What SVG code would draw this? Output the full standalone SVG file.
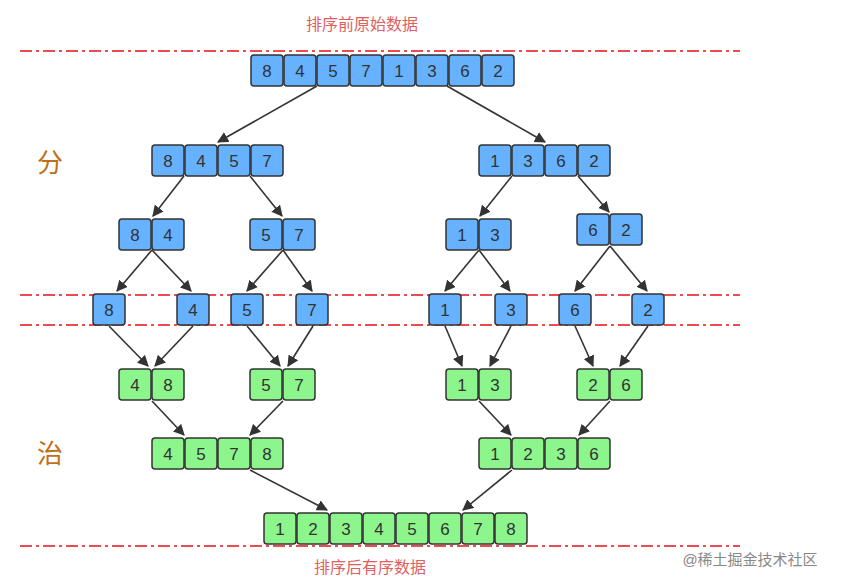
<svg xmlns="http://www.w3.org/2000/svg" width="847" height="588" viewBox="0 0 847 588">
<defs>
<style>
.b rect{fill:#66b2ff;stroke:#333;stroke-width:1.5}
.g rect{fill:#8cf58c;stroke:#333;stroke-width:1.5}
text{font-family:"Liberation Sans","Noto Sans CJK SC",sans-serif}
.n{font-size:17px;fill:#333;text-anchor:middle}
.d{stroke:#e8101a;stroke-width:1.5;stroke-dasharray:12 4 3 4;fill:none}
.c line{stroke:#333;stroke-width:1.6;marker-end:url(#a)}
.t{font-size:16px;fill:#e06060;text-anchor:middle}
.h{font-size:26px;fill:#c0701a;text-anchor:middle}
</style>
<marker id="a" viewBox="0 0 10 10" refX="9" refY="5" markerWidth="7" markerHeight="7" orient="auto"><path d="M0,0L10,5L0,10z" fill="#333"/></marker>
</defs>
<rect width="847" height="588" fill="#fff"/>
<g id="guides">
<line class="d" x1="20" y1="51" x2="740" y2="51"/>
<line class="d" x1="20" y1="295" x2="740" y2="295"/>
<line class="d" x1="20" y1="325" x2="740" y2="325"/>
<line class="d" x1="20" y1="546" x2="740" y2="546"/>
</g>
<text class="t" x="362" y="30">排序前原始数据</text>
<text class="t" x="370" y="573">排序后有序数据</text>
<text class="h" x="50" y="172">分</text>
<text class="h" x="50" y="463">治</text>
<text x="750" y="565" font-size="15" fill="#888" text-anchor="middle">@稀土掘金技术社区</text>
<g class="c">
<line x1="317" y1="86" x2="218" y2="142"/>
<line x1="447" y1="86" x2="545" y2="142"/>
<line x1="184" y1="176" x2="153" y2="216"/>
<line x1="250" y1="176" x2="282" y2="216"/>
<line x1="512" y1="176" x2="480" y2="216"/>
<line x1="578" y1="176" x2="609" y2="212"/>
<line x1="152" y1="250" x2="117" y2="291"/>
<line x1="152" y1="250" x2="191" y2="291"/>
<line x1="283" y1="250" x2="247" y2="291"/>
<line x1="283" y1="250" x2="312" y2="291"/>
<line x1="479" y1="250" x2="445" y2="291"/>
<line x1="479" y1="250" x2="510" y2="291"/>
<line x1="610" y1="246" x2="575" y2="291"/>
<line x1="610" y1="246" x2="647" y2="291"/>
<line x1="109" y1="326" x2="148" y2="366"/>
<line x1="193" y1="326" x2="155" y2="366"/>
<line x1="247" y1="326" x2="280" y2="366"/>
<line x1="313" y1="326" x2="288" y2="366"/>
<line x1="445" y1="326" x2="462" y2="366"/>
<line x1="511" y1="326" x2="490" y2="366"/>
<line x1="575" y1="326" x2="593" y2="366"/>
<line x1="648" y1="326" x2="620" y2="366"/>
<line x1="152" y1="401" x2="184" y2="435"/>
<line x1="283" y1="401" x2="250" y2="435"/>
<line x1="479" y1="401" x2="511" y2="435"/>
<line x1="610" y1="401" x2="579" y2="435"/>
<line x1="250" y1="470" x2="327" y2="510"/>
<line x1="512" y1="470" x2="463" y2="510"/>
</g>
<g id="top" class="b">
<rect x="251" y="55" width="32" height="31" rx="3"/><rect x="284" y="55" width="32" height="31" rx="3"/><rect x="317" y="55" width="32" height="31" rx="3"/><rect x="350" y="55" width="32" height="31" rx="3"/><rect x="383" y="55" width="32" height="31" rx="3"/><rect x="416" y="55" width="32" height="31" rx="3"/><rect x="449" y="55" width="32" height="31" rx="3"/><rect x="482" y="55" width="32" height="31" rx="3"/>
<text class="n" y="77"><tspan x="267">8</tspan><tspan x="300">4</tspan><tspan x="333">5</tspan><tspan x="366">7</tspan><tspan x="399">1</tspan><tspan x="432">3</tspan><tspan x="465">6</tspan><tspan x="498">2</tspan></text>
</g>
<g id="l2a" class="b">
<rect x="152" y="145" width="32" height="31" rx="3"/><rect x="185" y="145" width="32" height="31" rx="3"/><rect x="218" y="145" width="32" height="31" rx="3"/><rect x="251" y="145" width="32" height="31" rx="3"/>
<text class="n" y="167"><tspan x="168">8</tspan><tspan x="201">4</tspan><tspan x="234">5</tspan><tspan x="267">7</tspan></text>
</g>
<g id="l2b" class="b">
<rect x="479" y="145" width="32" height="31" rx="3"/><rect x="512" y="145" width="32" height="31" rx="3"/><rect x="545" y="145" width="32" height="31" rx="3"/><rect x="578" y="145" width="32" height="31" rx="3"/>
<text class="n" y="167"><tspan x="495">1</tspan><tspan x="528">3</tspan><tspan x="561">6</tspan><tspan x="594">2</tspan></text>
</g>
<g id="l3a" class="b"><rect x="119" y="219" width="32" height="31" rx="3"/><rect x="152" y="219" width="32" height="31" rx="3"/><text class="n" y="241"><tspan x="135">8</tspan><tspan x="168">4</tspan></text></g>
<g id="l3b" class="b"><rect x="250" y="219" width="32" height="31" rx="3"/><rect x="283" y="219" width="32" height="31" rx="3"/><text class="n" y="241"><tspan x="266">5</tspan><tspan x="299">7</tspan></text></g>
<g id="l3c" class="b"><rect x="446" y="219" width="32" height="31" rx="3"/><rect x="479" y="219" width="32" height="31" rx="3"/><text class="n" y="241"><tspan x="462">1</tspan><tspan x="495">3</tspan></text></g>
<g id="l3d" class="b"><rect x="577" y="214" width="32" height="31" rx="3"/><rect x="610" y="214" width="32" height="31" rx="3"/><text class="n" y="236"><tspan x="593">6</tspan><tspan x="626">2</tspan></text></g>
<g id="s8" class="b"><rect x="93" y="294" width="32" height="31" rx="3"/><text class="n" x="109" y="316">8</text></g>
<g id="s4" class="b"><rect x="177" y="294" width="32" height="31" rx="3"/><text class="n" x="193" y="316">4</text></g>
<g id="s5" class="b"><rect x="231" y="294" width="32" height="31" rx="3"/><text class="n" x="247" y="316">5</text></g>
<g id="s7" class="b"><rect x="296" y="294" width="32" height="31" rx="3"/><text class="n" x="312" y="316">7</text></g>
<g id="s1" class="b"><rect x="429" y="294" width="32" height="31" rx="3"/><text class="n" x="445" y="316">1</text></g>
<g id="s3" class="b"><rect x="495" y="294" width="32" height="31" rx="3"/><text class="n" x="511" y="316">3</text></g>
<g id="s6" class="b"><rect x="559" y="294" width="32" height="31" rx="3"/><text class="n" x="575" y="316">6</text></g>
<g id="s2" class="b"><rect x="632" y="294" width="32" height="31" rx="3"/><text class="n" x="648" y="316">2</text></g>
<g id="m1" class="g"><rect x="119" y="369" width="32" height="31" rx="3"/><rect x="152" y="369" width="32" height="31" rx="3"/><text class="n" y="391"><tspan x="135">4</tspan><tspan x="168">8</tspan></text></g>
<g id="m2" class="g"><rect x="250" y="369" width="32" height="31" rx="3"/><rect x="283" y="369" width="32" height="31" rx="3"/><text class="n" y="391"><tspan x="266">5</tspan><tspan x="299">7</tspan></text></g>
<g id="m3" class="g"><rect x="446" y="369" width="32" height="31" rx="3"/><rect x="479" y="369" width="32" height="31" rx="3"/><text class="n" y="391"><tspan x="462">1</tspan><tspan x="495">3</tspan></text></g>
<g id="m4" class="g"><rect x="577" y="369" width="32" height="31" rx="3"/><rect x="610" y="369" width="32" height="31" rx="3"/><text class="n" y="391"><tspan x="593">2</tspan><tspan x="626">6</tspan></text></g>
<g id="m5" class="g">
<rect x="152" y="438" width="32" height="31" rx="3"/><rect x="185" y="438" width="32" height="31" rx="3"/><rect x="218" y="438" width="32" height="31" rx="3"/><rect x="251" y="438" width="32" height="31" rx="3"/>
<text class="n" y="460"><tspan x="168">4</tspan><tspan x="201">5</tspan><tspan x="234">7</tspan><tspan x="267">8</tspan></text>
</g>
<g id="m6" class="g">
<rect x="479" y="438" width="32" height="31" rx="3"/><rect x="512" y="438" width="32" height="31" rx="3"/><rect x="545" y="438" width="32" height="31" rx="3"/><rect x="578" y="438" width="32" height="31" rx="3"/>
<text class="n" y="460"><tspan x="495">1</tspan><tspan x="528">2</tspan><tspan x="561">3</tspan><tspan x="594">6</tspan></text>
</g>
<g id="final" class="g">
<rect x="264" y="513" width="32" height="31" rx="3"/><rect x="297" y="513" width="32" height="31" rx="3"/><rect x="330" y="513" width="32" height="31" rx="3"/><rect x="363" y="513" width="32" height="31" rx="3"/><rect x="396" y="513" width="32" height="31" rx="3"/><rect x="429" y="513" width="32" height="31" rx="3"/><rect x="462" y="513" width="32" height="31" rx="3"/><rect x="495" y="513" width="32" height="31" rx="3"/>
<text class="n" y="535"><tspan x="280">1</tspan><tspan x="313">2</tspan><tspan x="346">3</tspan><tspan x="379">4</tspan><tspan x="412">5</tspan><tspan x="445">6</tspan><tspan x="478">7</tspan><tspan x="511">8</tspan></text>
</g>
</svg>
